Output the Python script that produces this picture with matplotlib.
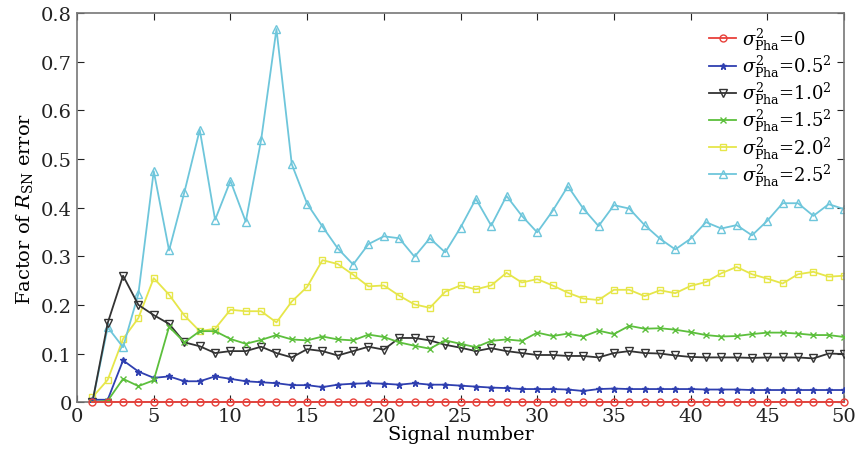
import matplotlib
matplotlib.use("Agg")
import matplotlib.pyplot as plt
import numpy as np

plt.rcParams['font.family'] = ['DejaVu Serif']
plt.rcParams['mathtext.fontset'] = 'dejavuserif'

signal = list(range(1, 51))

err_0 = [0.0] * 50
err_05 = [0.005, 0.005, 0.086, 0.063, 0.050, 0.053, 0.043, 0.043, 0.053, 0.048,
          0.043, 0.041, 0.039, 0.035, 0.035, 0.031, 0.036, 0.038, 0.039, 0.038,
          0.036, 0.039, 0.036, 0.036, 0.034, 0.032, 0.030, 0.029, 0.027, 0.027,
          0.027, 0.026, 0.023, 0.027, 0.028, 0.027, 0.027, 0.027, 0.027, 0.027,
          0.026, 0.026, 0.026, 0.025, 0.025, 0.025, 0.025, 0.025, 0.025, 0.025]
err_10 = [0.0, 0.163, 0.260, 0.200, 0.179, 0.161, 0.123, 0.115, 0.101, 0.105,
          0.105, 0.114, 0.101, 0.092, 0.109, 0.105, 0.096, 0.105, 0.114, 0.108,
          0.132, 0.132, 0.127, 0.118, 0.112, 0.105, 0.111, 0.105, 0.101, 0.097,
          0.097, 0.095, 0.095, 0.092, 0.101, 0.105, 0.101, 0.100, 0.096, 0.093,
          0.092, 0.092, 0.092, 0.091, 0.092, 0.092, 0.092, 0.090, 0.100, 0.099]
err_15 = [0.0, 0.003, 0.048, 0.033, 0.045, 0.155, 0.123, 0.146, 0.146, 0.130,
          0.120, 0.128, 0.138, 0.129, 0.127, 0.135, 0.129, 0.127, 0.139, 0.134,
          0.123, 0.116, 0.110, 0.127, 0.120, 0.113, 0.126, 0.129, 0.126, 0.143,
          0.136, 0.141, 0.135, 0.147, 0.140, 0.157, 0.151, 0.152, 0.149, 0.144,
          0.138, 0.135, 0.136, 0.140, 0.143, 0.143, 0.141, 0.138, 0.138, 0.134]
err_20 = [0.010, 0.046, 0.130, 0.173, 0.255, 0.221, 0.178, 0.146, 0.151, 0.190,
          0.187, 0.187, 0.164, 0.207, 0.237, 0.292, 0.284, 0.262, 0.238, 0.240,
          0.219, 0.201, 0.194, 0.227, 0.240, 0.232, 0.240, 0.266, 0.246, 0.253,
          0.240, 0.225, 0.213, 0.210, 0.231, 0.231, 0.218, 0.230, 0.224, 0.239,
          0.247, 0.265, 0.278, 0.263, 0.254, 0.244, 0.263, 0.268, 0.258, 0.260]
err_25 = [0.0, 0.154, 0.113, 0.223, 0.475, 0.312, 0.432, 0.560, 0.375, 0.455,
          0.371, 0.539, 0.767, 0.489, 0.408, 0.361, 0.316, 0.283, 0.325, 0.341,
          0.337, 0.299, 0.337, 0.308, 0.359, 0.418, 0.363, 0.424, 0.383, 0.349,
          0.393, 0.444, 0.398, 0.362, 0.405, 0.398, 0.364, 0.336, 0.314, 0.336,
          0.370, 0.357, 0.364, 0.343, 0.373, 0.409, 0.409, 0.383, 0.407, 0.397]

labels = [r'$\sigma^2_{\rm Pha}$=0', r'$\sigma^2_{\rm Pha}$=0.5$^2$',
          r'$\sigma^2_{\rm Pha}$=1.0$^2$', r'$\sigma^2_{\rm Pha}$=1.5$^2$',
          r'$\sigma^2_{\rm Pha}$=2.0$^2$', r'$\sigma^2_{\rm Pha}$=2.5$^2$']

fig = plt.figure(figsize=(8.56, 4.52), dpi=100)
ax = fig.add_axes([0.090, 0.108, 0.896, 0.861])

styles = [
    dict(color='#e8403a', marker='o', mfc='none', ms=5, zorder=10, clip_on=False),
    dict(color='#2f3fb0', marker='*', ms=5, zorder=4),
    dict(color='#333333', marker='v', mfc='none', ms=6, zorder=3),
    dict(color='#5cbf3c', marker='x', ms=4, zorder=4),
    dict(color='#e6e64a', marker='s', mfc='none', ms=4.5, zorder=2),
    dict(color='#6ec6db', marker='^', mfc='none', ms=6, zorder=2),
]
series = [err_0, err_05, err_10, err_15, err_20, err_25]
for s, st, lab in zip(series, styles, labels):
    ax.plot(signal, s, lw=1.3, mew=1.0, label=lab, **st)

ax.set_xlim(0, 50)
ax.set_ylim(0, 0.8)
ax.set_xticks(range(0, 51, 5))
ax.set_yticks(np.arange(0, 0.81, 0.1))
ax.set_yticklabels(['0', '0.1', '0.2', '0.3', '0.4', '0.5', '0.6', '0.7', '0.8'])
ax.tick_params(direction='in', top=True, right=True, length=5, labelsize=14, colors='#222222')
for sp in ax.spines.values():
    sp.set_color('#777777')
    sp.set_linewidth(1.2)

ax.set_xlabel('Signal number', fontsize=14, labelpad=0)
ax.set_ylabel(r'Factor of $R_{\rm SN}$ error', fontsize=14, labelpad=4)

leg = ax.legend(loc='upper right', frameon=False, fontsize=13, handlelength=1.5,
                handletextpad=0.3, labelspacing=0.05, borderaxespad=0.3)

fig.savefig('out.png', dpi=100)
